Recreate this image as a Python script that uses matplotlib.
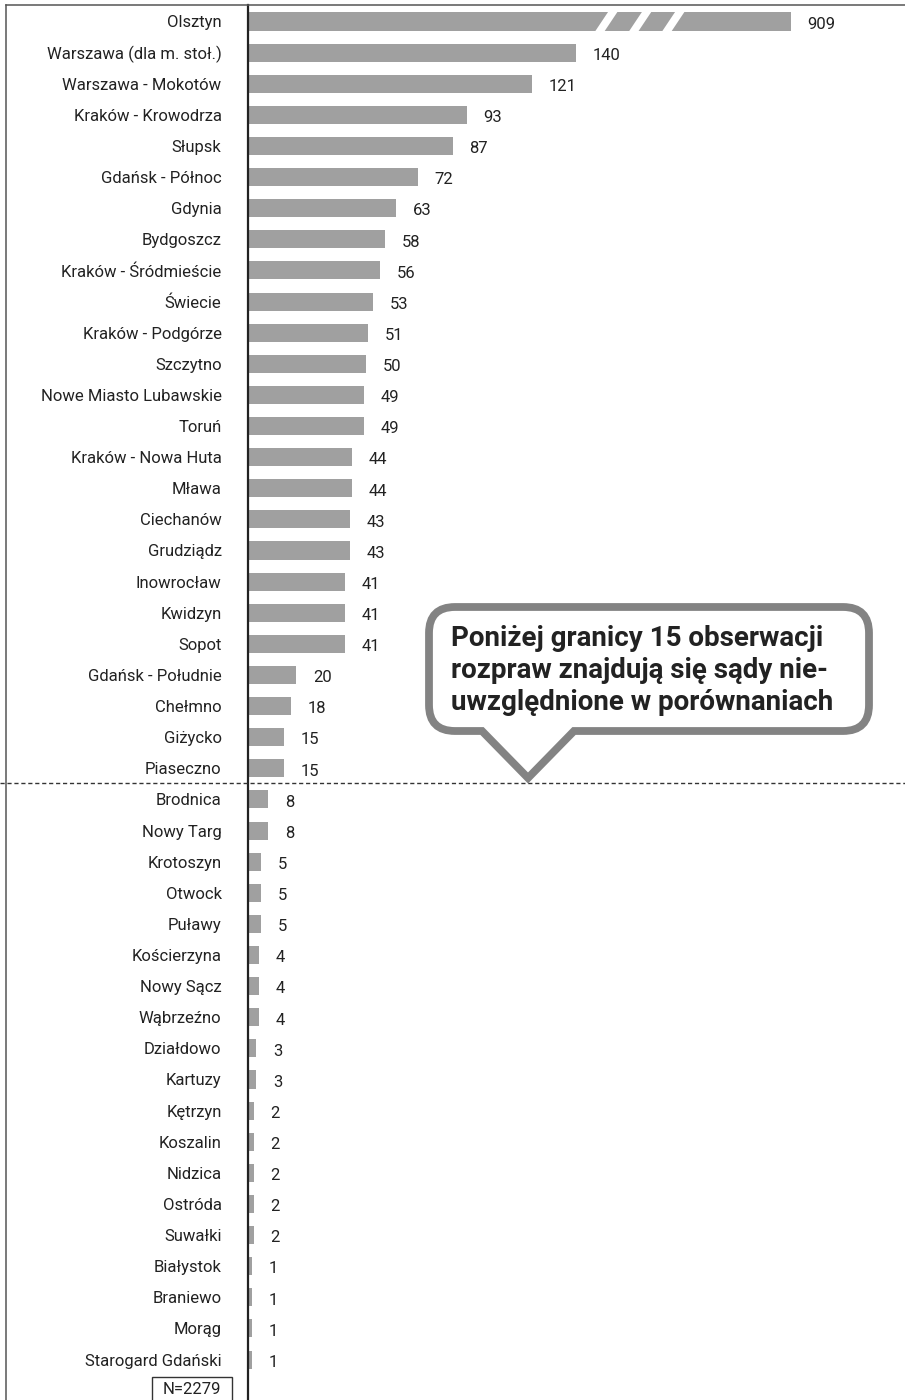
import numpy as np
import matplotlib
matplotlib.use('Agg')
import matplotlib.pyplot as plt
from matplotlib.path import Path
from matplotlib.patches import PathPatch, Polygon, Rectangle

plt.rcParams['font.family'] = ['Roboto', 'DejaVu Sans']

courts = ['Olsztyn', 'Warszawa (dla m. stoł.)', 'Warszawa - Mokotów', 'Kraków - Krowodrza',
          'Słupsk', 'Gdańsk - Północ', 'Gdynia', 'Bydgoszcz', 'Kraków - Śródmieście',
          'Świecie', 'Kraków - Podgórze', 'Szczytno', 'Nowe Miasto Lubawskie', 'Toruń',
          'Kraków - Nowa Huta', 'Mława', 'Ciechanów', 'Grudziądz', 'Inowrocław', 'Kwidzyn',
          'Sopot', 'Gdańsk - Południe', 'Chełmno', 'Giżycko', 'Piaseczno', 'Brodnica',
          'Nowy Targ', 'Krotoszyn', 'Otwock', 'Puławy', 'Kościerzyna', 'Nowy Sącz',
          'Wąbrzeźno', 'Działdowo', 'Kartuzy', 'Kętrzyn', 'Koszalin', 'Nidzica', 'Ostróda',
          'Suwałki', 'Białystok', 'Braniewo', 'Morąg', 'Starogard Gdański']
counts = [909, 140, 121, 93, 87, 72, 63, 58, 56, 53, 51, 50, 49, 49, 44, 44, 43, 43,
          41, 41, 41, 20, 18, 15, 15, 8, 8, 5, 5, 5, 4, 4, 4, 3, 3, 2, 2, 2, 2, 2, 1, 1, 1, 1]
threshold = 15
total_n = 2279
bar_cap = 232  # broken bar for Olsztyn

W, H = 905, 1400
fig = plt.figure(figsize=(W / 100, H / 100), dpi=100)
ax = fig.add_axes([248 / W, 0, 1 - 248 / W, (H - 5) / H])

y = np.arange(len(courts))
shown = [min(c, bar_cap) for c in counts]
bars = ax.barh(y, shown, height=0.58, color='#a0a0a0', left=0.6)

# break marks on the capped bar
for xc in [153.5, 168.0, 182.2]:
    ax.add_patch(Polygon([(xc - 5.2, 0.36), (xc - 1.2, 0.36), (xc + 5.2, -0.36), (xc + 1.2, -0.36)],
                         closed=True, facecolor='white', edgecolor='none', zorder=3))

for yi, s, c in zip(y, shown, counts):
    ax.annotate(str(c), (s, yi), xytext=(13, -2), textcoords='offset points',
                ha='left', va='center', fontsize=12, color='#222222')

ax.set_yticks(y)
ax.set_yticklabels(courts, fontsize=12, color='#222222')
ax.tick_params(axis='y', length=0, pad=19)
ax.set_xticks([])
ax.set_ylim(44.3, -0.53)
ax.set_xlim(0, 281.4)
for s in ['top', 'right', 'bottom']:
    ax.spines[s].set_visible(False)
ax.spines['left'].set_color('#222222')
ax.spines['left'].set_linewidth(1.6)

# overlay for decorations in pixel space
ov = fig.add_axes([0, 0, 1, 1], zorder=5)
ov.set_xlim(0, W)
ov.set_ylim(H, 0)
ov.axis('off')

ov.plot([6, W], [5, 5], color='#555555', lw=1.1)
ov.plot([6, 6], [5, H], color='#555555', lw=1.1)
ov.plot([0, W], [783, 783], color='#333333', lw=1, dashes=(3, 2))

x0, x1, y0, y1, r = 429, 869, 607, 731, 26
pl, pr, tip = 482, 574, (528, 778)
verts = [(x0 + r, y0), (x1 - r, y0), (x1, y0), (x1, y0 + r), (x1, y1 - r), (x1, y1), (x1 - r, y1),
         (pr, y1), tip, (pl, y1), (x0 + r, y1), (x0, y1), (x0, y1 - r), (x0, y0 + r), (x0, y0),
         (x0 + r, y0), (x0 + r, y0)]
codes = [Path.MOVETO, Path.LINETO, Path.CURVE3, Path.CURVE3, Path.LINETO, Path.CURVE3, Path.CURVE3,
         Path.LINETO, Path.LINETO, Path.LINETO, Path.LINETO, Path.CURVE3, Path.CURVE3, Path.LINETO,
         Path.CURVE3, Path.CURVE3, Path.CLOSEPOLY]
ov.add_patch(PathPatch(Path(verts, codes), facecolor='white', edgecolor='#838383', lw=5.6,
                       joinstyle='miter'))
note = ['Poniżej granicy 15 obserwacji', 'rozpraw znajdują się sądy nie-',
        'uwzględnione w porównaniach']
for i, line in enumerate(note):
    ov.text(451, 638 + 32.5 * i, line, fontsize=20, fontweight='bold', color='#222222',
            ha='left', va='center')

ov.add_patch(Rectangle((152, 1377), 80, 30, facecolor='white', edgecolor='#333333', lw=1))
ov.text(192, 1390, f'N={total_n}', fontsize=12, color='#222222', ha='center', va='center')

fig.savefig('out.png', dpi=100)
